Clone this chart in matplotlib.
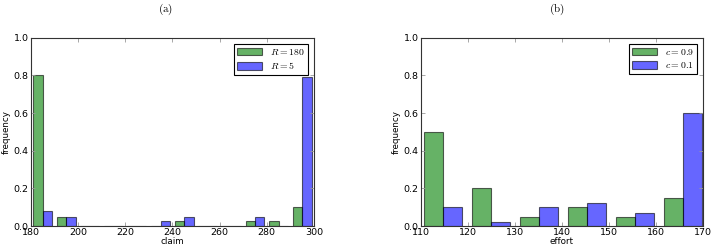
import numpy as np
import matplotlib
matplotlib.use("Agg")
import matplotlib.pyplot as plt

plt.rcParams['mathtext.fontset'] = 'cm'
plt.rcParams['font.family'] = 'DejaVu Sans'

# Panel (a): claim histogram
claim_edges = [180, 190, 200, 210, 220, 230, 240, 250, 260, 270, 280, 290, 300]
freq_R180 = [0.8, 0.05, 0, 0, 0, 0, 0.025, 0, 0, 0.025, 0.025, 0.1]
freq_R5 = [0.08, 0.05, 0, 0, 0, 0.025, 0.05, 0, 0, 0.05, 0, 0.79]
labels_a = [r'$R=180$', r'$R=5$']

# Panel (b): effort histogram
effort_edges = [109.7, 119.88, 130.06, 140.24, 150.42, 160.6, 170.78]
freq_c09 = [0.5, 0.2, 0.05, 0.1, 0.05, 0.15]
freq_c01 = [0.1, 0.02, 0.1, 0.12, 0.07, 0.6]
labels_b = [r'$c=0.9$', r'$c=0.1$']

W, H = 715, 249
fig = plt.figure(figsize=(W / 100, H / 100), dpi=100)

def panel(rect, edges, g, b, labels, xlabel, xlim, xticks, title, title_x):
    ax = fig.add_axes(rect)
    edges = np.asarray(edges, dtype=float)
    centers = (edges[:-1] + edges[1:]) / 2
    ax.hist([centers, centers], bins=edges, weights=[g, b], histtype='bar',
            rwidth=0.8, color=['g', 'b'], alpha=0.6, edgecolor='black',
            linewidth=0.8, label=labels)
    ax.set_xlim(*xlim)
    ax.set_ylim(0, 1.0)
    ax.set_xticks(xticks)
    ax.set_yticks([0, 0.2, 0.4, 0.6, 0.8, 1.0])
    ax.set_yticklabels(['0.0', '0.2', '0.4', '0.6', '0.8', '1.0'])
    ax.tick_params(direction='in', length=3, width=0.6, labelsize=6.8,
                   top=True, right=True, pad=1.5, colors='#999999',
                   labelcolor='black')
    for s in ax.spines.values():
        s.set_linewidth(0.8)
        s.set_color('#333333')
    ax.set_xlabel(xlabel, fontsize=6.3, labelpad=0)
    ax.set_ylabel('frequency', fontsize=6.3, labelpad=2)
    leg = ax.legend(loc='upper right', fontsize=7, frameon=True, fancybox=False,
                    edgecolor='black', framealpha=1, handlelength=2.6,
                    handleheight=0.8, borderpad=0.35, labelspacing=0.35,
                    borderaxespad=0.6)
    leg.get_frame().set_linewidth(0.8)
    fig.text(title_x, 1 - 9 / H, title, ha='center', va='center', fontsize=8)
    return ax

panel([30.7 / W, 1 - 226 / H, 283.3 / W, 188.3 / H], claim_edges, freq_R180,
      freq_R5, labels_a, 'claim', (180, 300), [180, 200, 220, 240, 260, 280, 300],
      r'$\mathrm{(a)}$', 166 / W)
panel([420.7 / W, 1 - 226 / H, 282.6 / W, 188.3 / H], effort_edges, freq_c09,
      freq_c01, labels_b, 'effort', (110, 170), [110, 120, 130, 140, 150, 160, 170],
      r'$\mathrm{(b)}$', 557 / W)

fig.savefig('out.png', dpi=100)
